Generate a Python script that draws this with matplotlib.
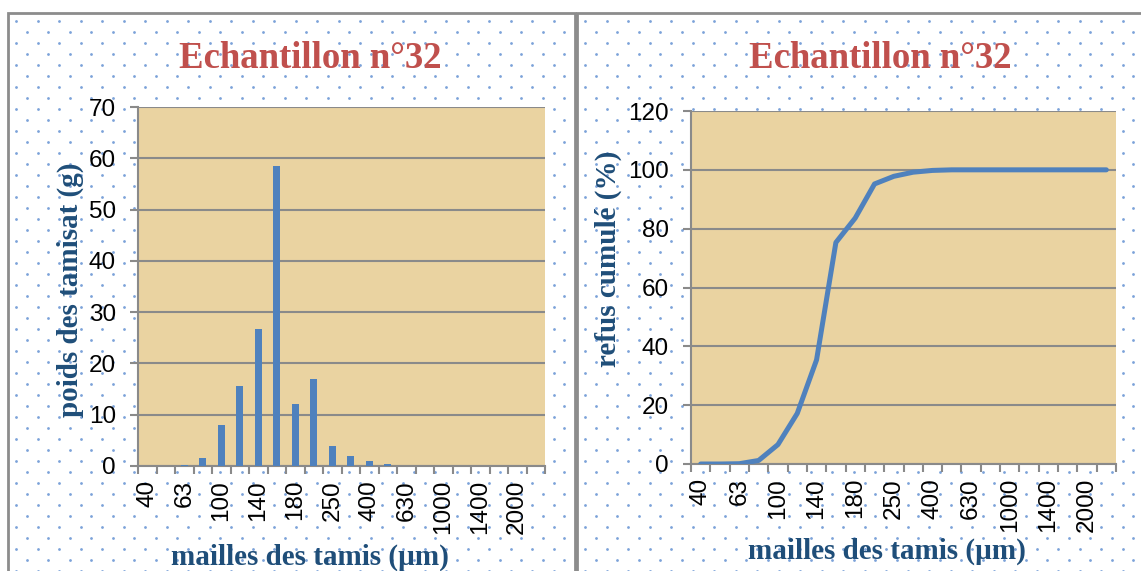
#!/usr/bin/env python3
"""
Granulometry of sample n°32: sieve weights (bars) and cumulative retained (line).
"""

import numpy as np
import matplotlib.pyplot as plt
from matplotlib.patches import Rectangle

# sieve openings (um), one category per sieve; only every other one is labelled
tick_labels = ["40", "63", "100", "140", "180", "250", "400", "630",
               "1000", "1400", "2000"]
n_sieves = 22

# weight retained on each sieve (g)
poids = [0, 0, 0.1, 1.6, 8.0, 15.6, 26.7, 58.5, 12.1, 17.0, 3.9, 2.0,
         0.9, 0.3, 0, 0, 0, 0, 0, 0, 0, 0]

# cumulative retained (%)
refus = [0, 0, 0.1, 1.2, 6.6, 17.2, 35.4, 75.3, 83.6, 95.2, 97.8, 99.2,
         99.8, 100, 100, 100, 100, 100, 100, 100, 100, 100]

W, H = 1141, 571
PAPYRUS = "#EAD3A1"
BLUE = "#4F81BD"
GRID = "#8A8A8A"
TITLE_RED = "#C0504D"
LABEL_BLUE = "#1F4E79"
SERIF = "Liberation Serif"
plt.rcParams["font.family"] = ["Liberation Sans", "DejaVu Sans"]


def px(x, y):
    return x / W, 1 - y / H


fig = plt.figure(figsize=(W / 100, H / 100), dpi=100)

# background with the two framed panels and the dotted pattern
bg = fig.add_axes([0, 0, 1, 1])
bg.set_xlim(0, W)
bg.set_ylim(H, 0)
bg.axis("off")
panels = [(8, 13, 567, 570), (577, 13, 575, 570)]
for (x0, y0, w, h) in panels:
    bg.add_patch(Rectangle((x0, y0), w, h, facecolor="white",
                           edgecolor="#8C8C8C", linewidth=2, zorder=1))
    rect = Rectangle((x0, y0), w, h, transform=bg.transData)
    ys = np.arange(y0 + 8, y0 + h, 11)
    for i, yy in enumerate(ys):
        off = 0 if i % 2 == 0 else 10.75
        xs = np.arange(x0 + 8 + off, x0 + w, 21.5)
        sc = bg.scatter(xs, np.full_like(xs, yy), s=4, color="#5B8BD0",
                        alpha=0.8, linewidths=0, zorder=2)
        sc.set_clip_path(rect)


def style_axes(ax, ymax, ystep):
    ax.set_facecolor(PAPYRUS)
    ax.set_xlim(-0.5, n_sieves - 0.5)
    ax.set_ylim(0, ymax)
    ax.set_yticks(np.arange(0, ymax + 1, ystep))
    ax.yaxis.grid(True, color=GRID, linewidth=1.5)
    ax.set_axisbelow(True)
    for s in ["top", "right"]:
        ax.spines[s].set_visible(False)
    for s in ["left", "bottom"]:
        ax.spines[s].set_color(GRID)
        ax.spines[s].set_linewidth(1.5)
    # ticks between categories, labels on every other category
    ax.set_xticks(np.arange(-0.5, n_sieves, 1))
    ax.set_xticklabels([])
    ax.set_xticks(np.arange(0, n_sieves, 2), minor=True)
    ax.set_xticklabels(tick_labels, minor=True)
    ax.tick_params(axis="x", which="major", length=6, width=1.5,
                   color=GRID, direction="out")
    ax.tick_params(axis="x", which="minor", length=0, pad=10,
                   labelsize=17.5, labelrotation=90)
    ax.tick_params(axis="y", length=6, width=1.5, color=GRID, pad=10,
                   labelsize=17.5)


# left: weight per sieve
ax1 = fig.add_axes([138 / W, 1 - 466 / H, 407 / W, 359 / H])
style_axes(ax1, 70, 10)
ax1.bar(np.arange(n_sieves), poids, width=0.4, color=BLUE, zorder=3)

# right: cumulative retained
ax2 = fig.add_axes([691 / W, 1 - 464 / H, 425 / W, 353 / H])
style_axes(ax2, 120, 20)
ax2.plot(np.arange(n_sieves), refus, color=BLUE, linewidth=3.6,
         solid_capstyle="round", solid_joinstyle="round", zorder=3)

# titles and axis labels
label_kw = dict(color=LABEL_BLUE, fontsize=21, fontweight="bold",
                family=SERIF, ha="center", va="center")
for cx in (310, 880):
    fig.text(*px(cx, 58), "Echantillon n°32", color=TITLE_RED, fontsize=26.5,
             fontweight="bold", family=SERIF, ha="center", va="center")
fig.text(*px(310, 557), "mailles des tamis (µm)", **label_kw)
fig.text(*px(887, 551), "mailles des tamis (µm)", **label_kw)
fig.text(*px(70, 290), "poids des tamisat (g)", rotation=90, **label_kw)
fig.text(*px(608, 259), "refus cumulé (%)", rotation=90, **label_kw)

fig.savefig("out.png", dpi=100)
